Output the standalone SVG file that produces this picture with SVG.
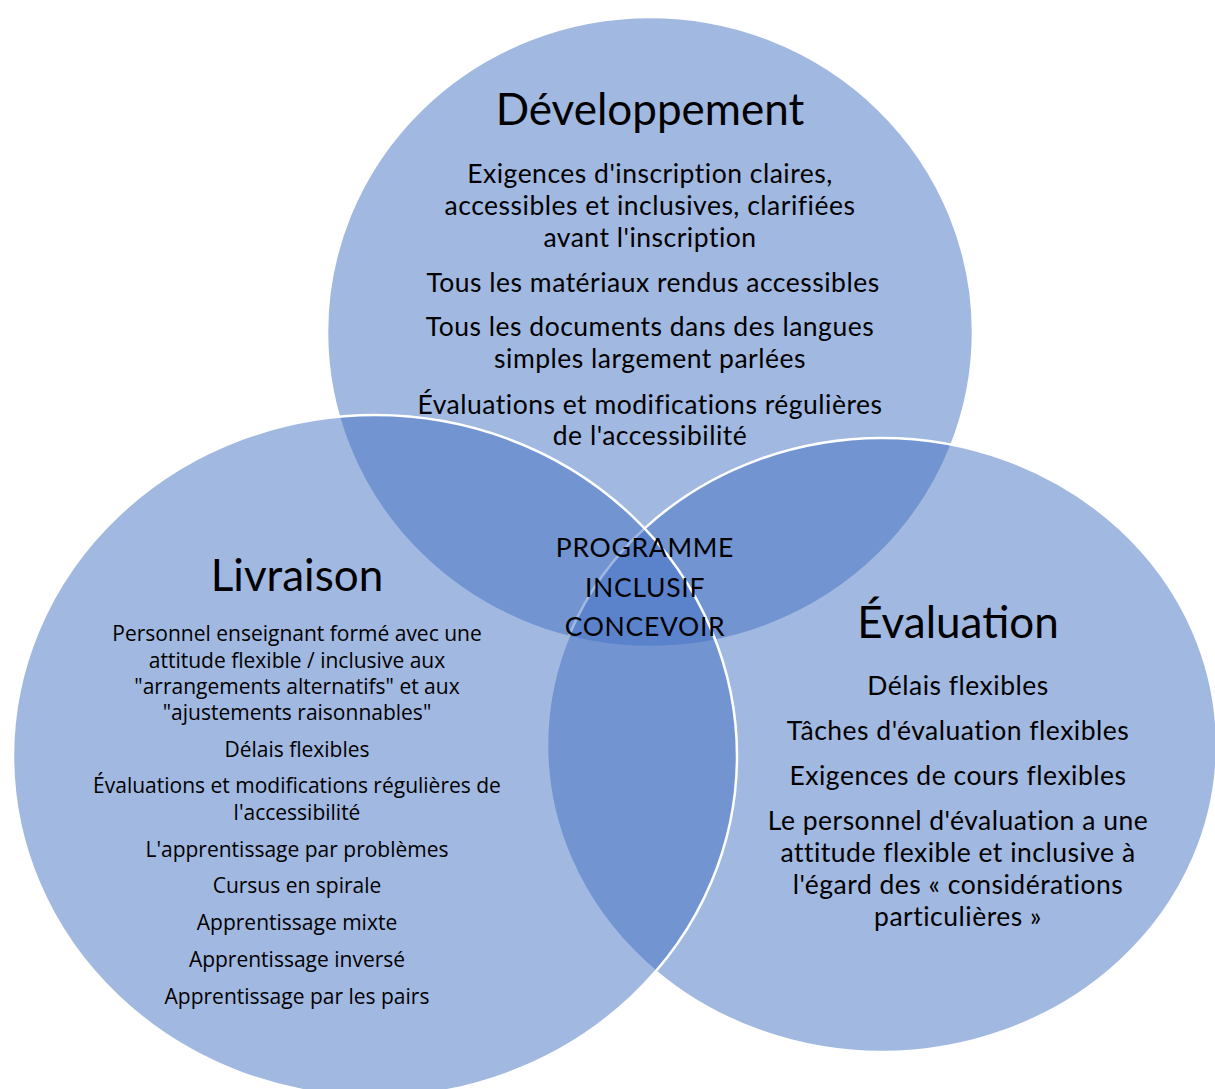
<svg xmlns="http://www.w3.org/2000/svg" width="1215" height="1089" viewBox="0 0 1215 1089">
<style>
.c{fill:#4472C4;fill-opacity:0.5;stroke:#ffffff;stroke-width:2.5}
text{font-family:Lato,"Liberation Sans",sans-serif;fill:#000;text-anchor:middle}
.h{font-size:44px}
.b{font-size:26.5px;letter-spacing:0.5px}
.s{font-family:"Open Sans","Liberation Sans",sans-serif;font-size:21px}
.m{font-size:26.5px;letter-spacing:0.7px}
</style>
<rect width="1215" height="1089" fill="#ffffff"/>
<g id="developpement">
<ellipse class="c" cx="650" cy="332" rx="323" ry="315"/>
<text class="h" x="650" y="125">Développement</text>
<text class="b" x="650" y="183">Exigences d'inscription claires,</text>
<text class="b" x="650" y="215">accessibles et inclusives, clarifiées</text>
<text class="b" x="650" y="247">avant l'inscription</text>
<text class="b" x="653" y="292">Tous les matériaux rendus accessibles</text>
<text class="b" x="650" y="336">Tous les documents dans des langues</text>
<text class="b" x="650" y="368">simples largement parlées</text>
<text class="b" x="650" y="414">Évaluations et modifications régulières</text>
<text class="b" x="650" y="445">de l'accessibilité</text>
</g>
<g id="evaluation">
<ellipse class="c" cx="882" cy="745" rx="335" ry="307"/>
<text class="h" x="958" y="638">Évaluation</text>
<text class="b" x="958" y="695">Délais flexibles</text>
<text class="b" x="958" y="740">Tâches d'évaluation flexibles</text>
<text class="b" x="958" y="785">Exigences de cours flexibles</text>
<text class="b" x="958" y="830">Le personnel d'évaluation a une</text>
<text class="b" x="958" y="862">attitude flexible et inclusive à</text>
<text class="b" x="958" y="894">l'égard des « considérations</text>
<text class="b" x="958" y="926">particulières »</text>
</g>
<g id="livraison">
<ellipse class="c" cx="375" cy="756" rx="362" ry="341"/>
<text class="h" x="297" y="591">Livraison</text>
<text class="s" x="297" y="641">Personnel enseignant formé avec une</text>
<text class="s" x="297" y="668">attitude flexible / inclusive aux</text>
<text class="s" x="297" y="694">"arrangements alternatifs" et aux</text>
<text class="s" x="297" y="720">"ajustements raisonnables"</text>
<text class="s" x="297" y="757">Délais flexibles</text>
<text class="s" x="297" y="793">Évaluations et modifications régulières de</text>
<text class="s" x="297" y="820">l'accessibilité</text>
<text class="s" x="297" y="857">L'apprentissage par problèmes</text>
<text class="s" x="297" y="893">Cursus en spirale</text>
<text class="s" x="297" y="930">Apprentissage mixte</text>
<text class="s" x="297" y="967">Apprentissage inversé</text>
<text class="s" x="297" y="1004">Apprentissage par les pairs</text>
</g>
<g id="programme">
<text class="m" x="645" y="557">PROGRAMME</text>
<text class="m" x="645" y="597">INCLUSIF</text>
<text class="m" x="645" y="636">CONCEVOIR</text>
</g>
</svg>
